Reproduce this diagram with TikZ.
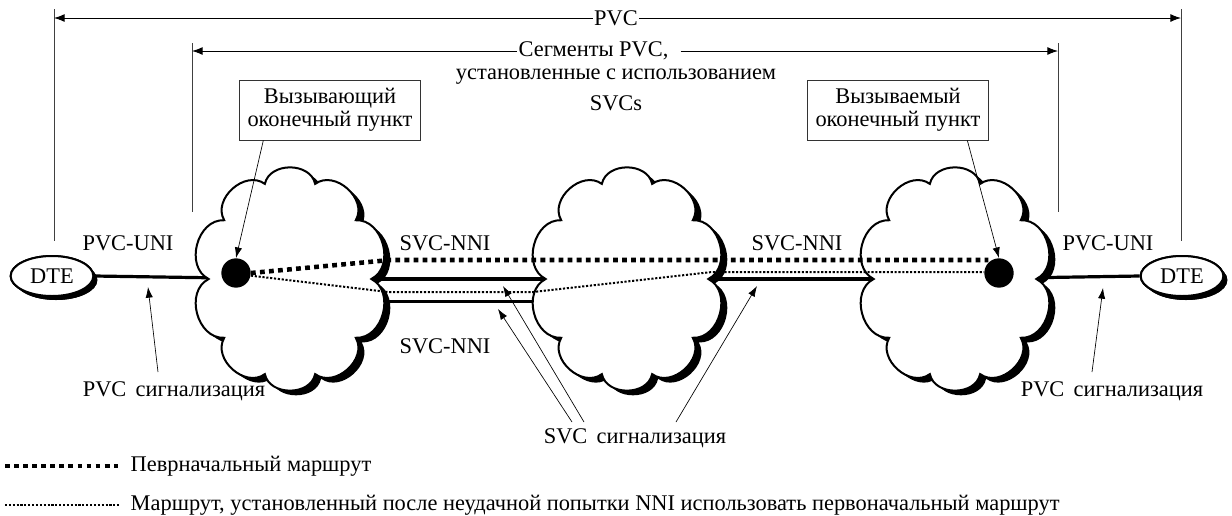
\documentclass[tikz,border=0pt]{standalone}
\usepackage{fontspec}
\setmainfont{Liberation Serif}
\usetikzlibrary{arrows.meta,shapes.geometric,shadows}
\tikzset{
  netcloud/.pic={
    \fill[black, shift={(4.5pt,-3.5pt)}] (0:61pt and 75pt) \foreach \k in {1,...,10}{ to[bend right=78, looseness=1.15] (\k*36:61pt and 75pt)} -- cycle;
    \draw[line width=1.5pt, fill=white] (0:61pt and 75pt) \foreach \k in {1,...,10}{ to[bend right=78, looseness=1.15] (\k*36:61pt and 75pt)} -- cycle;
  }
}
\begin{document}
\begin{tikzpicture}[x=0.75pt,y=-0.75pt,
  every node/.style={font=\fontsize{16.8}{19}\selectfont},
  guide/.style={line width=0.6pt, black!75},
  dim/.style={line width=0.7pt, -{Latex[length=8pt,width=6pt]}},
  ann/.style={line width=0.5pt, -{Latex[length=8pt,width=5.5pt]}},
  wire/.style={line width=2.4pt},
  route1/.style={line width=3.4pt, dash pattern=on 3.6pt off 3.2pt},
  route2/.style={line width=1.5pt, dash pattern=on 1.6pt off 1.3pt},
  dte/.style={ellipse, draw, line width=1.5pt, fill=white, minimum width=62pt, minimum height=30pt, inner sep=0pt,
    drop shadow={shadow xshift=3pt, shadow yshift=-3pt, fill=black, opacity=1}},
  endpt/.style={circle, fill=black, minimum size=22pt, inner sep=0pt},
  infobox/.style={draw=black!80, line width=0.6pt, fill=white, align=center, minimum width=136pt, minimum height=45pt, inner sep=2pt, font=\fontsize{16.8}{17}\selectfont}
]
\useasboundingbox (0,0) rectangle (1232,515);

% dimension guides
\coordinate (o1t) at (54,9);    \coordinate (o1b) at (54,241);
\coordinate (o2t) at (1181,9);  \coordinate (o2b) at (1181,241);
\coordinate (i1t) at (192,43);  \coordinate (i1b) at (192,212);
\coordinate (i2t) at (1058,43); \coordinate (i2b) at (1058,212);
\draw[guide] (o1t) -- (o1b);
\draw[guide] (o2t) -- (o2b);
\draw[guide] (i1t) -- (i1b);
\draw[guide] (i2t) -- (i2b);
\coordinate (ol) at (54,18);  \coordinate (or) at (1181,18);
\coordinate (il) at (192,51); \coordinate (ir) at (1058,51);

\node[fill=white, inner xsep=1pt, inner ysep=0pt] (pvc) at (616,18) {PVC};
\draw[dim] (pvc.west) -- (ol);
\draw[dim] (pvc.east) -- (or);

\node[anchor=west, fill=white, inner xsep=1pt, inner ysep=0pt] (seg1) at (517,51) {Сегменты PVC,};
\node (seg2) at (616,77) {установленные с использованием};
\node (seg3) at (616,103) {SVCs};
\draw[dim] (seg1.west) -- (il);
\draw[dim] ([xshift=8pt]seg1.east) -- (ir);

% network elements
\node[dte] (dte1) at (52,276) {DTE};
\node[dte] (dte2) at (1182,276) {DTE};
\coordinate (c1) at (290,279);
\coordinate (c2) at (627,279);
\coordinate (c3) at (955,279);

% solid wires (drawn first, clouds cover their ends)
\draw[wire] (dte1.east) -- (c1);
\draw[wire] (c1) -- (c2);
\draw[wire] ([yshift=-17pt]c1) -- ([yshift=-17pt]c2);
\draw[wire] (c2) -- (c3);
\draw[wire] (c3) -- (dte2.west);
\node[dte] at (dte1) {DTE};
\node[dte] at (dte2) {DTE};

\pic at (c1) {netcloud};
\pic at (c2) {netcloud};
\pic at (c3) {netcloud};

% endpoints
\node[endpt] (d1) at (236,273) {};
\node[endpt] (d2) at (999,273) {};

% routes
\coordinate (r1a) at (390,260);
\draw[route1] (d1.east) -- (r1a) -- (d2.north west |- r1a);
\coordinate (r2a) at (388,292);
\coordinate (r2b) at (533,292);
\coordinate (r2c) at (712,272);
\draw[route2] ([yshift=-2pt]d1.east) -- (r2a) -- (r2b) -- (r2c) -- (d2.west |- r2c);

% labels
\node (uni1) at (128,243) {PVC-UNI};
\node (uni2) at (1108,243) {PVC-UNI};
\node (nni1) at (445,243) {SVC-NNI};
\node (nni2) at (445,346) {SVC-NNI};
\node (nni3) at (797,243) {SVC-NNI};

% boxes
\node[infobox] (b1) at (330,110) {Вызывающий\\оконечный пункт};
\node[infobox] (b2) at (898,110) {Вызываемый\\оконечный пункт};
\draw[ann] ([xshift=-50pt]b1.south) -- (d1.north);
\draw[ann] ([xshift=52pt]b2.south) -- (d2.north);

% signalling
\node (ps1) at (174,391) {PVC\, сигнализация};
\node (ps2) at (1112,391) {PVC\, сигнализация};
\node (ss) at (635,438) {SVC\, сигнализация};
\coordinate (ps1a) at (158,372); \coordinate (ps1t) at (148,287);
\coordinate (ps2a) at (1092,372); \coordinate (ps2t) at (1103,288);
\draw[ann] (ps1a) -- (ps1t);
\draw[ann] (ps2a) -- (ps2t);
\coordinate (ssa) at (584,422); \coordinate (ssat) at (503,286);
\coordinate (ssb) at (572,422); \coordinate (ssbt) at (498,309);
\coordinate (ssc) at (676,422); \coordinate (ssct) at (757,286);
\draw[ann] (ssa) -- (ssat);
\draw[ann] (ssb) -- (ssbt);
\draw[ann] (ssc) -- (ssct);

% legend
\coordinate (l1a) at (5,466); \coordinate (l1b) at (118,466);
\coordinate (l2a) at (5,505); \coordinate (l2b) at (120,505);
\draw[route1] (l1a) -- (l1b);
\draw[route2] (l2a) -- (l2b);
\node[anchor=west] (lt1) at (126,466) {Певрначальный маршрут};
\node[anchor=west] (lt2) at (126,505) {Маршрут, установленный после неудачной попытки NNI использовать первоначальный маршрут};
\end{tikzpicture}
\end{document}
